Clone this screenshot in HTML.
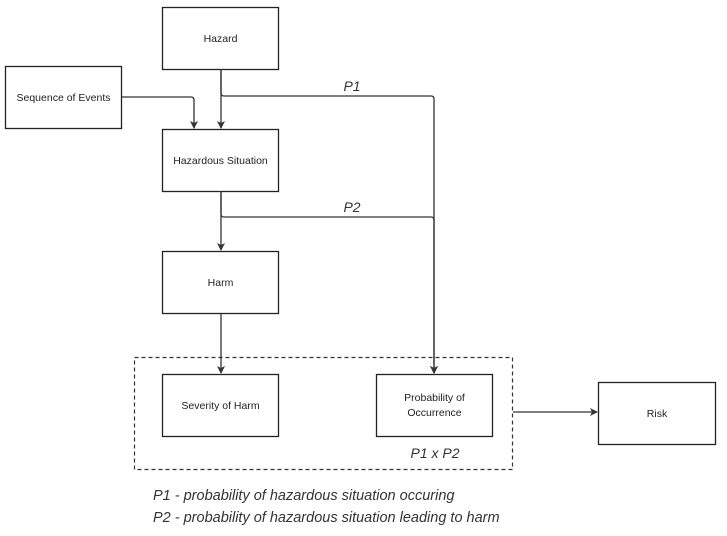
<!DOCTYPE html>
<html><head><style>body{margin:0;background:#fff}</style></head><body>
<svg width="727" height="531" xmlns="http://www.w3.org/2000/svg" font-family="Liberation Sans, DejaVu Sans, sans-serif">
<defs><marker id="a" markerWidth="8" markerHeight="8" refX="7" refY="4" orient="auto" markerUnits="userSpaceOnUse"><path d="M0,0 L8,4 L0,8 L2,4 z" fill="#333"/></marker></defs>
<g fill="#fff" stroke="#222" stroke-width="1.3">
<rect x="162.5" y="7.5" width="116" height="62"/>
<rect x="5.5" y="66.5" width="116" height="62"/>
<rect x="162.5" y="129.5" width="116" height="62"/>
<rect x="162.5" y="251.5" width="116" height="62"/>
<rect x="162.5" y="374.5" width="116" height="62"/>
<rect x="376.5" y="374.5" width="116" height="62"/>
<rect x="598.5" y="382.5" width="117" height="62"/>
</g>
<rect x="134.5" y="357.5" width="378" height="112" fill="none" stroke="#333" stroke-width="1.2" stroke-dasharray="4,3"/>
<g fill="none" stroke="#333" stroke-width="1.3" marker-end="url(#a)">
<path d="M221,69 V128"/>
<path d="M221,69 V93 Q221,96 224,96 H431 Q434,96 434,99 V373"/>
<path d="M122,97 H191 Q194,97 194,100 V128"/>
<path d="M221,191 V250"/>
<path d="M221,191 V214 Q221,217 224,217 H431 Q434,217 434,220 V373"/>
<path d="M221,313 V373"/>
<path d="M513,412 H597"/>
</g>
<g font-size="10.5" fill="#222" text-anchor="middle">
<text x="220.5" y="42">Hazard</text>
<text x="63.5" y="101">Sequence of Events</text>
<text x="220.5" y="164">Hazardous Situation</text>
<text x="220.5" y="286">Harm</text>
<text x="220.5" y="409">Severity of Harm</text>
<text x="434.5" y="401">Probability of</text>
<text x="434.5" y="416">Occurrence</text>
<text x="657" y="417">Risk</text>
</g>
<g font-style="italic" fill="#333">
<text x="352" y="91" font-size="14" text-anchor="middle">P1</text>
<text x="352" y="212" font-size="14" text-anchor="middle">P2</text>
<text x="435" y="458" font-size="14" text-anchor="middle">P1 x P2</text>
<text x="153" y="500" font-size="14.5">P1 - probability of hazardous situation occuring</text>
<text x="153" y="522" font-size="14.5">P2 - probability of hazardous situation leading to harm</text>
</g>
</svg>
</body></html>
